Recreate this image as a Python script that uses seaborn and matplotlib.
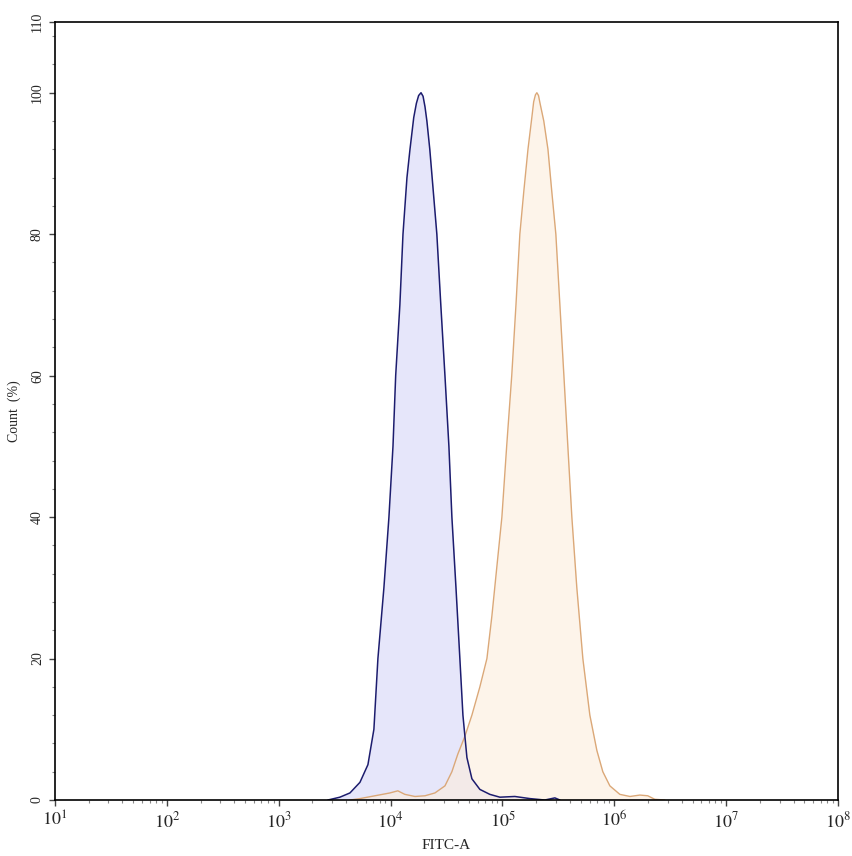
#!/usr/bin/env python
"""Flow cytometry overlay histogram (FITC-A) of two samples."""
import numpy as np
import pandas as pd
import matplotlib.pyplot as plt
from matplotlib.ticker import LogLocator, MultipleLocator, FixedLocator
import seaborn as sns

# --- Data ---
control_fitc = [2750, 3520, 4330, 5320, 6270, 7090, 7700, 8710, 9660, 10500,
                11100, 12100, 12900, 14000, 14900, 16100, 17000, 17800, 18700,
                19500, 20300, 21100, 22400, 25900, 28100, 30600, 33200, 35300,
                38400, 41600, 44300, 48100, 53300, 62800, 77100, 94800, 129000,
                176000, 239000, 294000, 326000]
control_count = [0, 0.4, 1.0, 2.5, 5, 10, 20, 30, 40, 50,
                 60, 70, 80, 88, 92, 96.5, 98.5, 99.6, 100,
                 99.5, 98, 96, 92, 80, 70, 60, 50, 40,
                 30, 20, 12, 6, 3, 1.5, 0.8, 0.4, 0.5,
                 0.2, 0, 0.3, 0]

stained_fitc = [4330, 5320, 7240, 9860, 11600, 13400, 16500, 20300, 24900,
                30600, 35300, 39900, 46100, 53300, 62800, 72600, 80400, 89100,
                98800, 109000, 121000, 132000, 143000, 155000, 169000, 183000,
                190000, 197000, 203000, 210000, 216000, 234000, 255000, 276000,
                300000, 326000, 354000, 384000, 417000, 462000, 523000, 604000,
                698000, 789000, 912000, 1120000, 1380000, 1690000, 1990000,
                2300000, 2830000]
stained_count = [0, 0.2, 0.6, 1.0, 1.3, 0.8, 0.5, 0.6, 1.0,
                 2.0, 4, 6.5, 9, 12, 16, 20, 26, 33,
                 40, 50, 60, 70, 80, 86, 92, 96.5,
                 98.7, 99.7, 100, 99.6, 98.6, 96, 92, 86,
                 80, 70, 60, 50, 40, 30, 20, 12,
                 7, 4, 2, 0.8, 0.5, 0.7, 0.6,
                 0.1, 0]

x_tick_values = [1e1, 1e2, 1e3, 1e4, 1e5, 1e6, 1e7, 1e8]
x_tick_labels = [f"$10^{{{k}}}$" for k in range(1, 9)]
y_tick_values = [0, 20, 40, 60, 80, 100, 110]

sns.set_style("ticks")
plt.rcParams["font.family"] = ["Liberation Serif", "DejaVu Serif"]
plt.rcParams["mathtext.fontset"] = "stix"

control = pd.DataFrame({"FITC-A": control_fitc, "Count": control_count})
stained = pd.DataFrame({"FITC-A": stained_fitc, "Count": stained_count})

fig = plt.figure(figsize=(8.53, 8.56), dpi=100)
ax = fig.add_axes([0.0645, 0.0654, 0.918, 0.9089])

# fills first, outlines on top
ax.fill_between(control["FITC-A"], control["Count"], color="#e4e4fa", alpha=0.9, lw=0)
ax.fill_between(stained["FITC-A"], stained["Count"], color="#fdeedd", alpha=0.6, lw=0)
sns.lineplot(data=stained, x="FITC-A", y="Count", color="#dba878", lw=1.0,
             sort=False, ax=ax)
sns.lineplot(data=control, x="FITC-A", y="Count", color="#1c1c6e", lw=1.1,
             sort=False, ax=ax)

ax.set_xscale("log")
ax.set_xlim(1e1, 1e8)
ax.set_ylim(0, 110)

ax.xaxis.set_major_locator(FixedLocator(x_tick_values))
ax.set_xticklabels(x_tick_labels, fontsize=13)
ax.xaxis.set_minor_locator(LogLocator(base=10, subs=np.arange(2, 10), numticks=20))
ax.set_yticks(y_tick_values)
ax.set_yticklabels([str(v) for v in y_tick_values], rotation=90, va="center",
                   fontsize=10)
ax.yaxis.set_minor_locator(MultipleLocator(4))

ax.tick_params(axis="both", which="major", direction="out", length=4, width=1,
               color="#444444", top=False, right=False)
ax.tick_params(axis="both", which="minor", direction="out", length=2.5, width=0.8,
               color="#888888", top=False, right=False)
ax.tick_params(axis="y", which="major", pad=4)
ax.tick_params(axis="x", which="major", pad=4)

for side in ["top", "right", "left", "bottom"]:
    ax.spines[side].set_visible(True)
    ax.spines[side].set_color("black")
    ax.spines[side].set_linewidth(1.2)

ax.set_xlabel("FITC-A", fontsize=11, labelpad=6)
ax.set_ylabel("Count  (%)", fontsize=10)
ax.yaxis.set_label_coords(-0.043, 0.5)

plt.savefig("out.png", dpi=100)
